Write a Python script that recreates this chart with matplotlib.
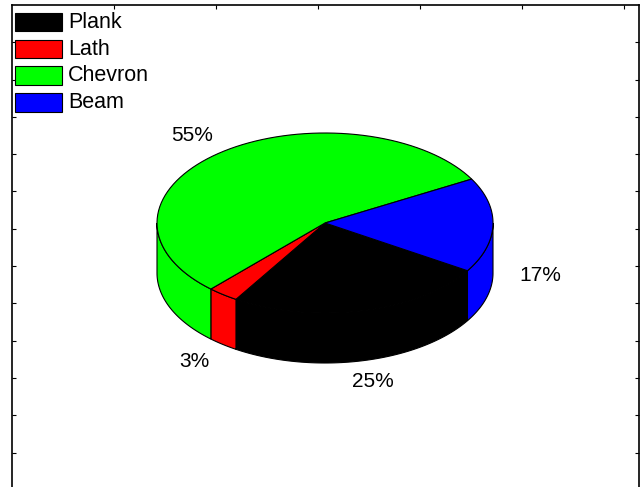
import numpy as np
import matplotlib.pyplot as plt
from matplotlib.patches import Polygon, Rectangle

plt.rcParams['font.family'] = ['Liberation Sans', 'DejaVu Sans']

labels = ['Plank', 'Lath', 'Chevron', 'Beam']
values = [25, 3, 55, 17]
colors = ['#000000', '#ff0000', '#00ff00', '#0000ff']

W, H = 642, 487
fig = plt.figure(figsize=(W / 100, H / 100), dpi=100)
# axes in pixel coordinates of the figure
ax = fig.add_axes([12 / W, -6 / H, 627 / W, (H - 5 + 6) / H])
ax.set_xlim(12, 639)
ax.set_ylim(H + 6, 5)

# pie geometry (pixels)
cx, cy, rx, ry, depth = 325, 223, 168, 90, 50
start = -32.0


def arc(a, b, dy=0, n=80):
    t = np.radians(np.linspace(a, b, n))
    return np.column_stack([cx + rx * np.cos(t), cy - ry * np.sin(t) + dy])


total = float(sum(values))
bounds = []
ang = start
for v in values:
    span = 360.0 * v / total
    bounds.append((ang - span, ang))
    ang -= span

# side walls (front half only)
for (lo, hi), c in zip(bounds, colors):
    for k in (-2, -1, 0, 1):
        a = max(lo, -180 + 360 * k)
        b = min(hi, 0 + 360 * k)
        if b > a:
            top = arc(a, b)
            bot = arc(b, a, dy=depth)
            ax.add_patch(Polygon(np.vstack([top, bot]), closed=True,
                                 facecolor=c, edgecolor='black', lw=0.8, zorder=2))

# top faces
for (lo, hi), c in zip(bounds, colors):
    pts = np.vstack([[cx, cy], arc(lo, hi)])
    ax.add_patch(Polygon(pts, closed=True, facecolor=c, edgecolor='black',
                         lw=0.8, zorder=3))

# percentage labels
for (lo, hi), v in zip(bounds, values):
    m = np.radians((lo + hi) / 2)
    x = cx + 1.28 * rx * np.cos(m)
    y = cy - 1.24 * ry * np.sin(m)
    if np.sin(m) < 0:
        y += depth
    ax.text(x, y, f'{v}%', ha='center', va='center', fontsize=15, zorder=4)

# legend
for i, (lab, c) in enumerate(zip(labels, colors)):
    y0 = 13 + 26.7 * i
    ax.add_patch(Rectangle((15, y0), 47, 18.5, facecolor=c, edgecolor='black',
                           lw=0.8, zorder=4))
    ax.text(68, y0 + 9.5, lab, ha='left', va='center', fontsize=15.5, zorder=4)

# frame and ticks
ax.set_xticks(np.arange(12 + 102, 639, 102))
ax.set_yticks(np.arange(5 + 37.3, H + 6, 37.3))
ax.tick_params(direction='in', length=3, top=True, right=True, bottom=False,
               labelleft=False, labelbottom=False, width=0.8)
for s in ax.spines.values():
    s.set_linewidth(1.2)

fig.savefig('out.png', dpi=100)
